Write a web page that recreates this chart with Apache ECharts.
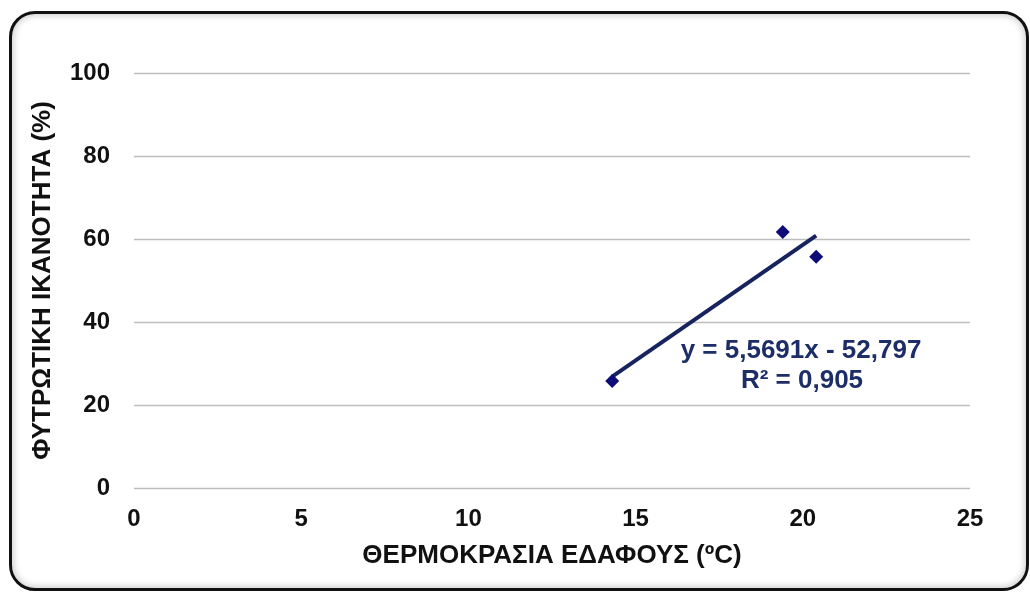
<!DOCTYPE html>
<html>
<head>
<meta charset="utf-8">
<script src="https://cdn.jsdelivr.net/npm/echarts@6/dist/echarts.min.js"></script>
<style>
  html, body { margin:0; padding:0; background:#ffffff; }
  #frame { position:absolute; left:9px; top:11px; width:1014px; height:574px; border:3.5px solid #111; border-radius:26px;
           box-shadow: inset 0 0 6px 2px rgba(0,0,0,0.18); background:#ffffff; }
  #chart { position:absolute; left:0; top:0; width:1030px; height:592px; }
</style>
</head>
<body>
<div id="frame"></div>
<div id="chart"></div>
<script>
// Observed data points (soil temperature °C, germination %)
const tempX = [14.3, 19.4, 20.4];
const germY = [25.8, 61.7, 55.7];
// Trendline from fitted equation shown on chart
const slope = 5.5691;
const intercept = -52.797;
const trendX = [14.3, 20.4];
const xTicks = [0, 5, 10, 15, 20, 25];
const yTicks = [0, 20, 40, 60, 80, 100];
const eqLine1 = 'y = 5,5691x - 52,797';
const eqLine2 = 'R² = 0,905';
const xTitle = 'ΘΕΡΜΟΚΡΑΣΙΑ ΕΔΑΦΟΥΣ (ºC)';
const yTitle = 'ΦΥΤΡΩΤΙΚΗ ΙΚΑΝΟΤΗΤΑ (%)';

const chart = echarts.init(document.getElementById('chart'));
const font = 'Liberation Sans, Arial, sans-serif';
chart.setOption({
  backgroundColor: 'transparent',
  animation: false,
  grid: { left: 134, right: 60, top: 73, bottom: 104 },
  xAxis: {
    type: 'value', min: xTicks[0], max: xTicks[xTicks.length-1], interval: 5,
    axisLine: { show: false }, axisTick: { show: false }, splitLine: { show: false },
    axisLabel: { fontFamily: font, fontWeight: 'bold', fontSize: 24, color: '#111', margin: 19 },
    name: xTitle, nameLocation: 'middle', nameGap: 55,
    nameTextStyle: { fontFamily: font, fontWeight: 'bold', fontSize: 26, color: '#111' }
  },
  yAxis: {
    type: 'value', min: yTicks[0], max: yTicks[yTicks.length-1], interval: 20,
    axisLine: { show: false }, axisTick: { show: false },
    splitLine: { show: true, lineStyle: { color: '#bdbdbd', width: 1.3 } },
    axisLabel: { fontFamily: font, fontWeight: 'bold', fontSize: 24, color: '#111', margin: 24 },
    name: yTitle, nameLocation: 'middle', nameGap: 78, nameRotate: 90,
    nameTextStyle: { fontFamily: font, fontWeight: 'bold', fontSize: 26, color: '#111' }
  },
  series: [
    {
      type: 'line',
      data: trendX.map(x => [x, slope * x + intercept]),
      symbol: 'none',
      lineStyle: { color: '#16235e', width: 4 },
      z: 2
    },
    {
      type: 'scatter',
      data: tempX.map((x, i) => [x, germY[i]]),
      symbol: 'diamond', symbolSize: 14,
      itemStyle: { color: '#0d0d7a', opacity: 1 },
      z: 3
    }
  ],
  graphic: [
    { type: 'text', x: 801, y: 351, style: { text: eqLine1, fill: '#1c2d68', font: 'bold 26px ' + font, textAlign: 'center', textVerticalAlign: 'middle' } },
    { type: 'text', x: 802, y: 381, style: { text: eqLine2, fill: '#1c2d68', font: 'bold 26px ' + font, textAlign: 'center', textVerticalAlign: 'middle' } }
  ]
});
</script>
</body>
</html>
